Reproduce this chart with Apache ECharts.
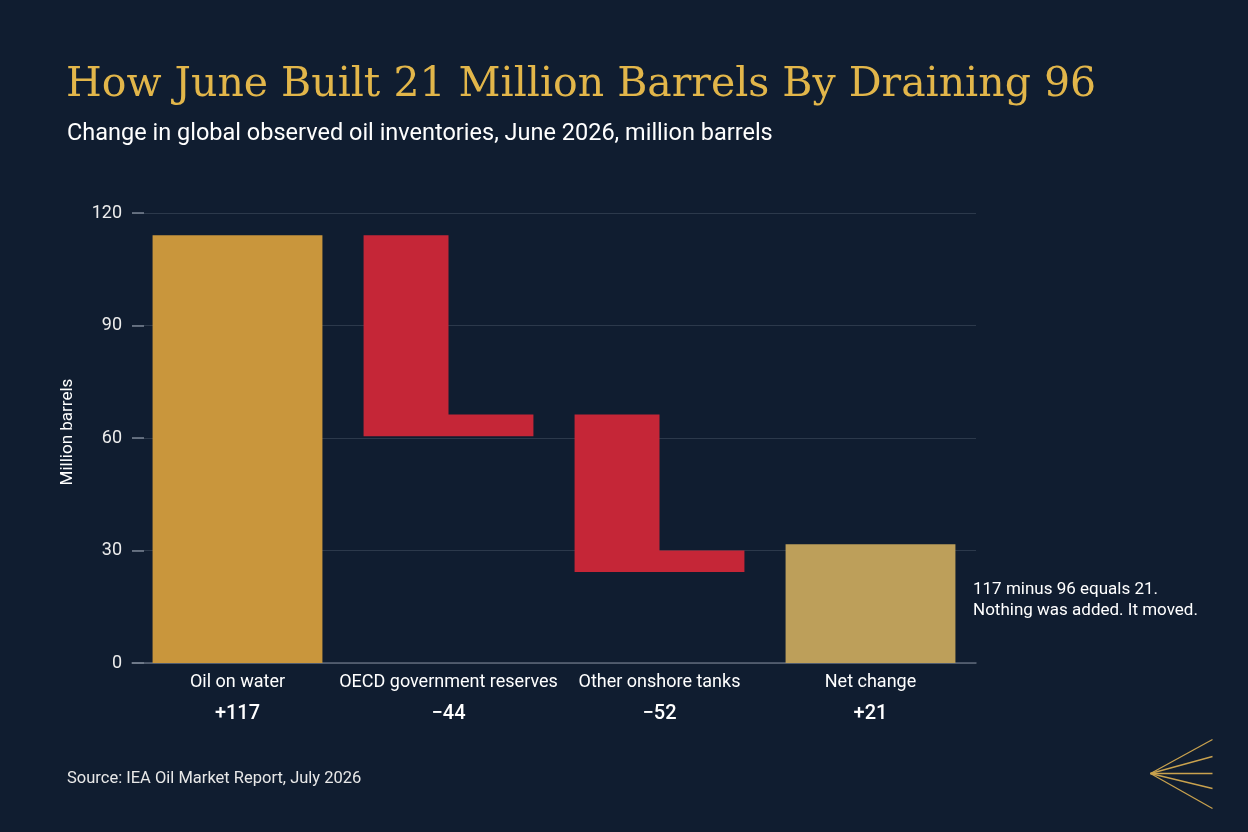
<!DOCTYPE html>
<html>
<head>
<meta charset="utf-8">
<script src="https://cdn.jsdelivr.net/npm/echarts@6/dist/echarts.min.js"></script>
<style>
  html, body { margin: 0; padding: 0; background: #101d30; }
  #chart { width: 1248px; height: 832px; }
</style>
</head>
<body>
<div id="chart"></div>
<script>
// categories and the numbers printed under them
const categories = ['Oil on water', 'OECD government reserves', 'Other onshore tanks', 'Net change'];
const deltaLabels = ['+117', '\u221244', '\u221252', '+21'];

// bar extents as drawn (million barrels)
const barBottom = [0, 60.5, 24.3, 0];
const barTop = [114.1, 114.1, 66.3, 31.7];     // left half of each bar
const stepTop = [114.1, 66.3, 30.0, 31.7];     // right half of each bar

const barColors = ['#c9963c', '#c52637', '#c52637', '#bd9f5a'];

const yTicks = [0, 30, 60, 90, 120];

const chart = echarts.init(document.getElementById('chart'));

const barData = categories.map((c, i) => [i, barBottom[i], barTop[i], stepTop[i]]);

// one polygon per category: full height on the left half, step height on the right half
function renderBar(params, api) {
    const i = api.value(0);
    const band = api.size([1, 0])[0];
    const w = band * 0.805;
    const cx = api.coord([i, 0])[0];
    const x0 = cx - w / 2, x1 = cx + w / 2;
    const yB = api.coord([i, api.value(1)])[1];
    const yT = api.coord([i, api.value(2)])[1];
    const yS = api.coord([i, api.value(3)])[1];
    return {
        type: 'polygon',
        shape: { points: [[x0, yT], [cx, yT], [cx, yS], [x1, yS], [x1, yB], [x0, yB]] },
        style: { fill: barColors[i] }
    };
}

const option = {
    backgroundColor: '#101d30',
    animation: false,
    title: [
        {
            text: 'How June Built 21 Million Barrels By Draining 96',
            left: 66, top: 65, padding: 0,
            textStyle: { color: '#e2b64a', fontFamily: 'DejaVu Serif', fontSize: 41, fontWeight: 'normal' }
        },
        {
            text: 'Change in global observed oil inventories, June 2026, million barrels',
            left: 67, top: 122, padding: 0,
            textStyle: { color: '#ffffff', fontFamily: 'Roboto', fontSize: 23.5, fontWeight: 'normal' }
        },
        {
            text: 'Source: IEA Oil Market Report, July 2026',
            left: 67, top: 770, padding: 0,
            textStyle: { color: '#e8e8e8', fontFamily: 'Roboto', fontSize: 16.5, fontWeight: 'normal' }
        }
    ],
    grid: { left: 132, right: 272, top: 213, bottom: 169 },
    xAxis: {
        type: 'category',
        data: categories,
        axisLine: { lineStyle: { color: '#5d6879', width: 1.5 } },
        axisTick: { show: false },
        axisLabel: {
            margin: 4,
            interval: 0,
            formatter: (v, i) => '{a|' + v + '}\n{b|' + deltaLabels[i] + '}',
            rich: {
                a: { color: '#ffffff', fontFamily: 'Roboto', fontSize: 18, lineHeight: 31 },
                b: { color: '#ffffff', fontFamily: 'Roboto', fontSize: 20, fontWeight: 500, lineHeight: 31 }
            }
        }
    },
    yAxis: {
        type: 'value',
        min: yTicks[0],
        max: yTicks[yTicks.length - 1],
        interval: 30,
        name: 'Million barrels',
        nameLocation: 'middle',
        nameRotate: 90,
        nameGap: 56,
        nameTextStyle: { color: '#ffffff', fontFamily: 'Roboto', fontSize: 17, padding: [0, 0, 0, 12] },
        axisLine: { show: false },
        axisTick: { show: true, inside: true, length: 12, lineStyle: { color: '#7a8494', width: 1.5 } },
        axisLabel: { color: '#ececec', fontFamily: 'Roboto', fontSize: 18, margin: 10 },
        splitLine: { lineStyle: { color: '#2c394b', width: 1.2 } }
    },
    series: [
        {
            type: 'custom',
            renderItem: renderBar,
            encode: { x: 0, y: [1, 2, 3] },
            data: barData
        }
    ],
    graphic: [
        {
            type: 'text', left: 973, top: 579,
            style: {
                text: '117 minus 96 equals 21.\nNothing was added. It moved.',
                fill: '#ffffff', font: '17px Roboto', lineHeight: 21
            }
        },
        {
            type: 'group', left: 1148, top: 737,
            children: [-34, -17, 0, 15, 35].map(dy => ({
                type: 'line',
                shape: { x1: 0, y1: 35, x2: 62, y2: 35 + dy },
                style: { stroke: '#c9a24e', lineWidth: 1.3 }
            }))
        }
    ]
};

chart.setOption(option);
</script>
</body>
</html>
